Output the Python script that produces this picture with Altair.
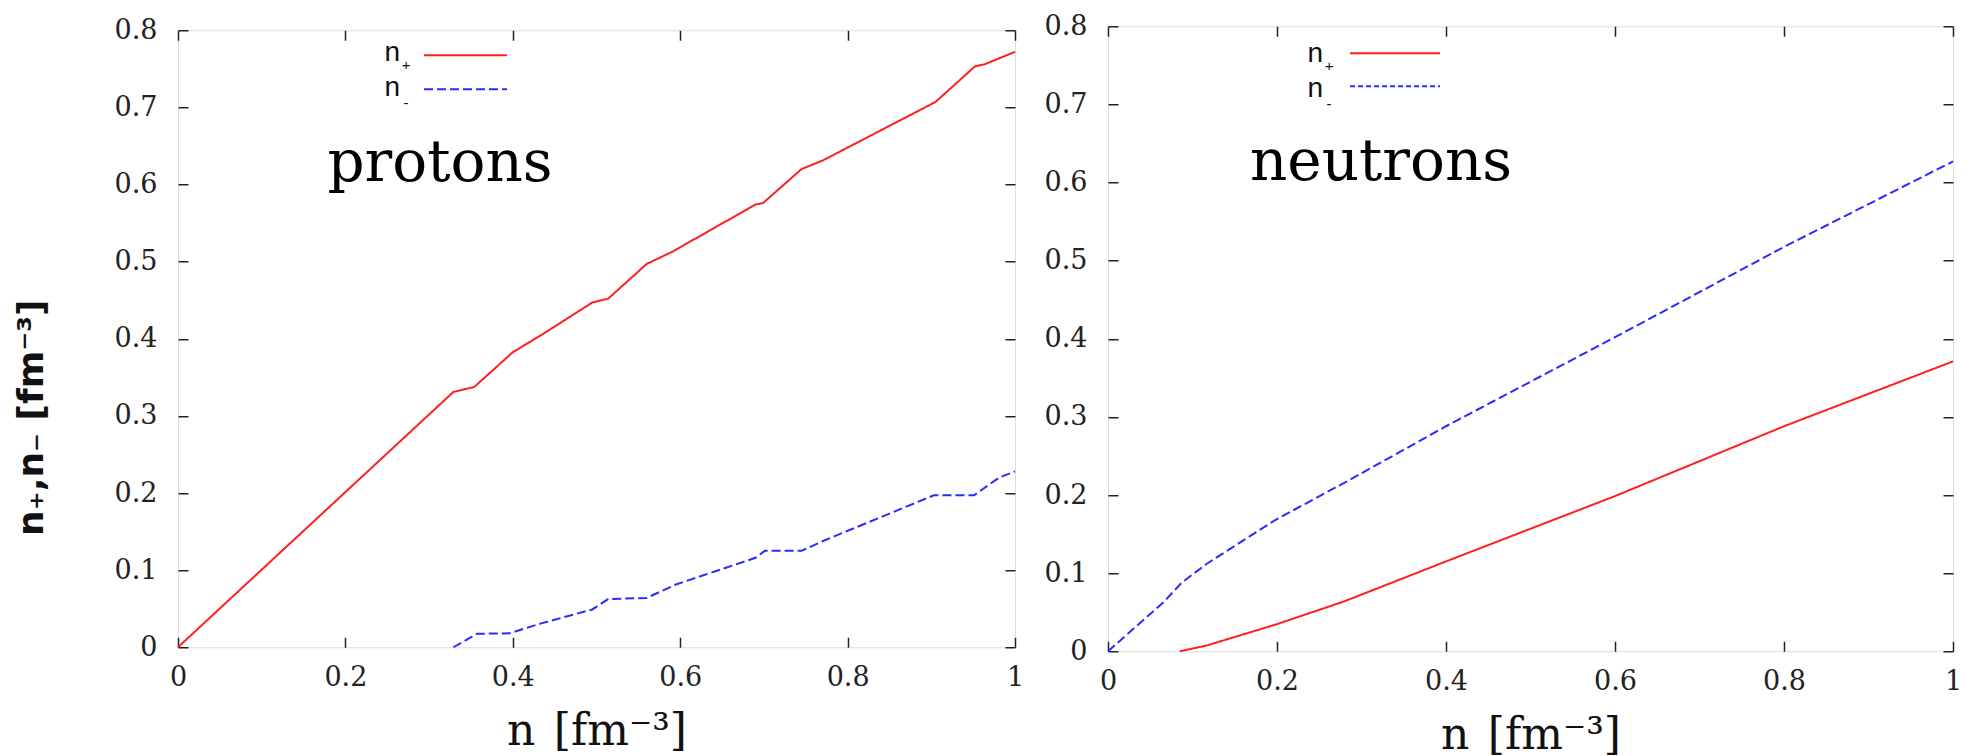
import altair as alt
import pandas as pd

# ---------------- data ----------------
x_ticks = [0, 0.2, 0.4, 0.6, 0.8, 1]
y_ticks = [0, 0.1, 0.2, 0.3, 0.4, 0.5, 0.6, 0.7, 0.8]
series = ["n+", "n-"]

# protons
proton_plus_n = [0, 0.329, 0.354, 0.400, 0.438, 0.495, 0.514, 0.560, 0.590,
                 0.690, 0.699, 0.745, 0.770, 0.905, 0.952, 0.964, 1.0]
proton_plus_v = [0, 0.331, 0.3375, 0.3825, 0.4075, 0.447, 0.452, 0.497, 0.5125,
                 0.574, 0.576, 0.620, 0.631, 0.707, 0.753, 0.756, 0.772]
proton_minus_n = [0.329, 0.357, 0.396, 0.434, 0.495, 0.514, 0.560, 0.594,
                  0.690, 0.701, 0.745, 0.770, 0.903, 0.951, 0.981, 1.0]
proton_minus_v = [0, 0.0175, 0.018, 0.031, 0.049, 0.0625, 0.064, 0.081,
                  0.116, 0.125, 0.125, 0.1375, 0.197, 0.197, 0.220, 0.228]

# neutrons
neutron_plus_n = [0.085, 0.117, 0.14, 0.198, 0.28, 0.4, 0.6, 0.8, 1.0]
neutron_plus_v = [0, 0.0074, 0.015, 0.034, 0.064, 0.115, 0.1986, 0.288, 0.371]
neutron_minus_n = [0, 0.066, 0.087, 0.117, 0.198, 0.287, 0.4, 0.6, 0.8, 1.0]
neutron_minus_v = [0, 0.063, 0.0876, 0.112, 0.168, 0.220, 0.288, 0.402, 0.5176, 0.627]

# ---------------- styling ----------------
RED = "#ff1f1f"
BLUE = "#2a2aff"
INK = "#222222"
TICK = 10
SERIF = "DejaVu Serif"
LABEL_SIZE = 27


def table(xs, ys, name):
    return pd.DataFrame({"n": xs, "v": ys, "s": name})


def panel(frames, w, h, dash, word, word_x, word_y, leg, y_title):
    df = pd.concat(frames, ignore_index=True)
    xs = alt.Scale(domain=[0, 1], nice=False)
    ys = alt.Scale(domain=[0, 0.8], nice=False)
    common = dict(domain=False, grid=False, tickSize=TICK, offset=-TICK,
                  tickColor=INK, tickWidth=1.5)

    bottom = alt.Axis(orient="bottom", values=x_ticks, format="~g",
                      labelFont=SERIF, labelFontSize=LABEL_SIZE, labelColor=INK,
                      labelPadding=17, labelFlush=False,
                      title="n \u200a[fm⁻³]", titleFont=SERIF, titleFontSize=44,
                      titleFontWeight="normal", titleColor="#111",
                      titleBaseline="alphabetic", titleY=107, **common)
    left_kw = dict(orient="left", values=y_ticks, format="~g",
                   labelFont=SERIF, labelFontSize=LABEL_SIZE, labelColor=INK,
                   labelPadding=21, labelFlush=False)
    if y_title:
        left_kw.update(title=y_title, titleFont="DejaVu Sans", titleFontSize=36,
                       titleFontWeight="bold", titleColor="#111",
                       titleBaseline="alphabetic", titleX=-146, titleY=387)
    else:
        left_kw.update(title=None)
    left = alt.Axis(**left_kw, **common)
    top = alt.Axis(orient="top", values=x_ticks, labels=False, title=None, **common)
    right = alt.Axis(orient="right", values=y_ticks, labels=False, title=None, **common)

    color = alt.Color("s:N", scale=alt.Scale(domain=series, range=[RED, BLUE]), legend=None)
    sdash = alt.StrokeDash("s:N", scale=alt.Scale(domain=series, range=[[1, 0], dash]),
                           legend=None)

    lines = alt.Chart(df).mark_line(strokeWidth=2).encode(
        x=alt.X("n:Q", scale=xs, axis=bottom),
        y=alt.Y("v:Q", scale=ys, axis=left),
        color=color, strokeDash=sdash, detail="s:N",
    )
    mirror = alt.Chart(df).mark_line(opacity=0).encode(
        x=alt.X("n:Q", scale=xs, axis=top),
        y=alt.Y("v:Q", scale=ys, axis=right),
        detail="s:N",
    )

    one = pd.DataFrame({"k": [0]})
    (lx0, lx1, ly_red, ly_blue, n_right, nb1, nb2, sub_x, sb1, sb2) = leg
    legend_layers = [
        alt.Chart(one).mark_rule(color=RED, strokeWidth=2).encode(
            x=alt.value(lx0), x2=alt.value(lx1), y=alt.value(ly_red)),
        alt.Chart(one).mark_rule(color=BLUE, strokeWidth=2, strokeDash=dash).encode(
            x=alt.value(lx0), x2=alt.value(lx1), y=alt.value(ly_blue)),
        alt.Chart(one).mark_text(text="n", font="Liberation Sans", fontSize=28,
                                 align="right", baseline="alphabetic", color="#111").encode(
            x=alt.value(n_right), y=alt.value(nb1)),
        alt.Chart(one).mark_text(text="n", font="Liberation Sans", fontSize=28,
                                 align="right", baseline="alphabetic", color="#111").encode(
            x=alt.value(n_right), y=alt.value(nb2)),
        alt.Chart(one).mark_text(text="+", font="Liberation Sans", fontSize=15,
                                 align="center", baseline="middle", color="#111").encode(
            x=alt.value(sub_x), y=alt.value(sb1)),
        alt.Chart(one).mark_text(text="-", font="Liberation Sans", fontSize=15,
                                 align="center", baseline="middle", color="#111").encode(
            x=alt.value(sub_x), y=alt.value(sb2)),
    ]
    word_layer = alt.Chart(one).mark_text(
        text=word, font=SERIF, fontSize=58, align="center",
        baseline="alphabetic", color="#000").encode(
        x=alt.value(word_x), y=alt.value(word_y))

    return alt.layer(lines, mirror, *legend_layers, word_layer).resolve_axis(
        x="independent", y="independent").properties(width=w, height=h)


protons = panel(
    [table(proton_plus_n, proton_plus_v, "n+"), table(proton_minus_n, proton_minus_v, "n-")],
    837, 617, [9, 4], "protons", 262, 151,
    (246, 329, 25, 59, 222, 31, 66, 228, 35, 73),
    "n₊,n₋  [fm⁻³]")

neutrons = panel(
    [table(neutron_plus_n, neutron_plus_v, "n+"), table(neutron_minus_n, neutron_minus_v, "n-")],
    845, 625, [5, 3], "neutrons", 273, 154,
    (242, 332, 27, 60, 215, 36, 71, 221, 40, 78),
    None)

chart = alt.hconcat(protons, neutrons, spacing=18, center=True).properties(
    padding={"left": 4, "top": 3, "right": 5, "bottom": 5}
).configure_view(stroke="#333333", strokeWidth=2).configure_axis(
    labelFont=SERIF, labelFontSize=LABEL_SIZE
).configure(background="white")

chart.save("out.html", embed_options={"renderer": "svg", "actions": False})
